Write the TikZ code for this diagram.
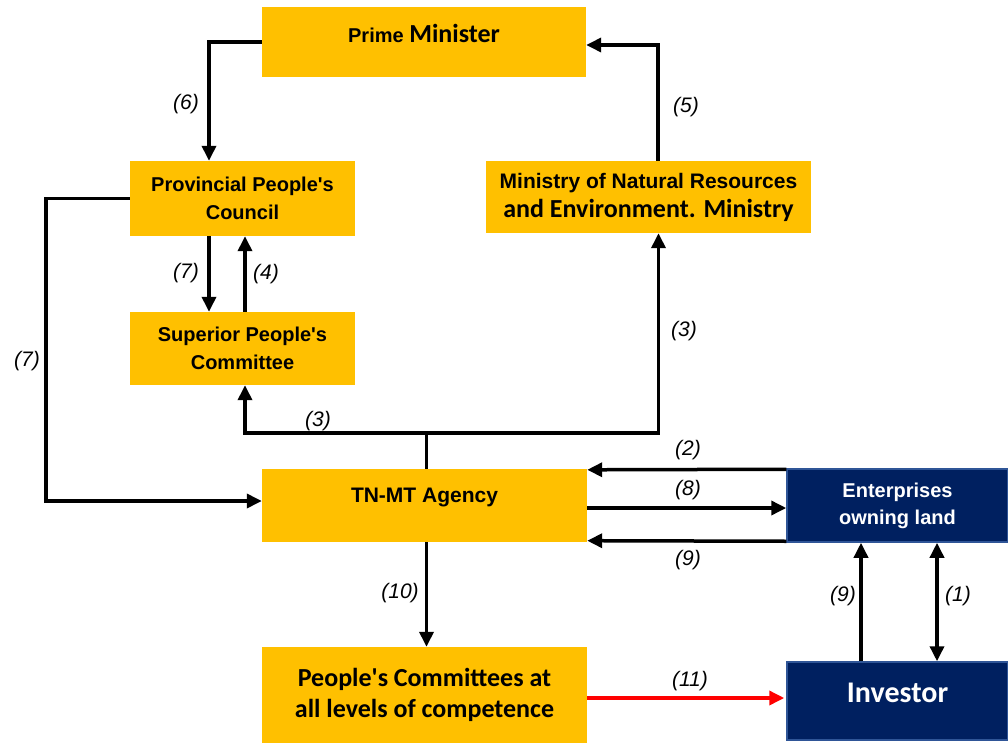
\documentclass[tikz,border=0pt]{standalone}
\usepackage{fontspec}
\setmainfont{Liberation Sans}
\newfontfamily\calibfont{Carlito}
\usepackage{tikz}
\usetikzlibrary{arrows.meta}
\usetikzlibrary{positioning}
\definecolor{boxyellow}{RGB}{255,192,0}
\definecolor{boxnavy}{RGB}{0,32,96}
\definecolor{navyline}{RGB}{47,85,151}
\newcommand{\apos}{\textquotesingle}
\tikzstyle{every node}+=[inner sep=0pt]
\tikzstyle{block} = [rectangle, fill=boxyellow, align=center, font=\bfseries\fontsize{20}{28}\selectfont, minimum height=73pt, minimum width=325pt]
\tikzstyle{darkblock} = [block, fill=boxnavy, draw=navyline, line width=1.5pt, text=white, minimum width=221pt]
\tikzstyle{line} = [draw, line width=3.5pt, -{Triangle[length=15pt, width=14pt]}]
\tikzstyle{value} = [font=\itshape\fontsize{21}{21}\selectfont]

\begin{document}
\begin{tikzpicture}[x=1pt, y=-1pt]
            \useasboundingbox (0,0) rectangle (1008,743);
            % Place nodes
            \node [block, minimum width=324pt, minimum height=70pt, text height=18pt, text depth=16pt] (pm) at (424,42) {Prime {\calibfont\fontsize{26}{28}\selectfont Minister}};
            \node [block, below of=pm, node distance=463.5pt, xshift=0.5pt, text height=16pt, text depth=23pt, font=\bfseries\fontsize{21}{28}\selectfont] (tnmt) {TN-MT Agency};
            \node [block, below of=tnmt, node distance=189.5pt, minimum height=96pt, font=\calibfont\bfseries\fontsize{26}{31}\selectfont] (pc) {People\apos s Committees at\\all levels of competence};
            \node [block, below of=pm, node distance=156.5pt, xshift=-181.5pt, minimum width=225pt, minimum height=75pt] (prov) {Provincial People\apos s\\Council};
            \node [block, below of=prov, node distance=150pt, minimum width=225pt] (sup) {Superior People\apos s\\Committee};
            \node [block, below of=pm, node distance=155pt, xshift=224.5pt, minimum height=72pt, font=\bfseries\fontsize{21}{29}\selectfont] (min) {Ministry of Natural Resources\\{\calibfont\fontsize{26}{29}\selectfont and Environment. Ministry}};
            \node [darkblock, right of=tnmt, node distance=473pt, font=\bfseries\fontsize{20}{27}\selectfont] (ent) {Enterprises\\owning land};
            \node [darkblock, below of=ent, node distance=195.5pt, minimum height=78pt, text height=20pt, text depth=18pt, font=\calibfont\bfseries\fontsize{30}{30}\selectfont] (inv) {Investor};
            \node [value] (l6) at (186,104) {(6)};
            \node [value] (l5) at (686,107) {(5)};
            \node [value] (l7a) at (186,273) {(7)};
            \node [value] (l4) at (266,274) {(4)};
            \node [value] (l7b) at (27,361) {(7)};
            \node [value] (l3a) at (318,421) {(3)};
            \node [value] (l3b) at (684,331) {(3)};
            \node [value] (l2) at (688,450) {(2)};
            \node [value] (l8) at (688,490) {(8)};
            \node [value] (l9a) at (688,560) {(9)};
            \node [value] (l10) at (400,593) {(10)};
            \node [value] (l11) at (690,681) {(11)};
            \node [value] (l9b) at (843,596) {(9)};
            \node [value] (l1) at (958,596) {(1)};
            % Draw edges
            \path [line] (pm.west) -| ([xshift=-33.5pt]prov.north);
            \path [line] ([xshift=9.5pt]min.north) |- ([yshift=-3pt]pm.east);
            \path [line] ([xshift=-33.5pt]prov.south) -- ([xshift=-33.5pt]sup.north);
            \path [line] ([xshift=2.5pt]sup.north) -- ([xshift=2.5pt]prov.south);
            \path [line] (prov.west) -- ++(-84,0) |- ([yshift=4.5pt]tnmt.west);
            \coordinate (split) at ([xshift=2pt, yshift=36pt]tnmt.north);
            \path [draw, line width=3.5pt] ([xshift=2pt]tnmt.north) -- (split);
            \path [line] (split) -| ([xshift=2.5pt]sup.south);
            \path [line] (split) -| ([xshift=10pt]min.south);
            \path [line] ([yshift=-1pt]ent.north west) -- ([yshift=-1pt]tnmt.north east);
            \path [line] ([yshift=-2.5pt]tnmt.east) -- ([yshift=-2.5pt]ent.west);
            \path [line] ([yshift=1.5pt]ent.south west) -- ([yshift=1.5pt]tnmt.south east);
            \path [line] ([xshift=2pt]tnmt.south) -- ([xshift=2pt]pc.north);
            \path [line, red] ([yshift=-3pt]pc.east) -- ([xshift=-2pt, yshift=3pt]inv.west);
            \path [line] ([xshift=-36.5pt]inv.north) -- ([xshift=-36.5pt]ent.south);
            \path [line, {Triangle[length=15pt, width=14pt]}-{Triangle[length=15pt, width=14pt]}] ([xshift=39.5pt]inv.north) -- ([xshift=39.5pt]ent.south);
          \end{tikzpicture}
\end{document}
